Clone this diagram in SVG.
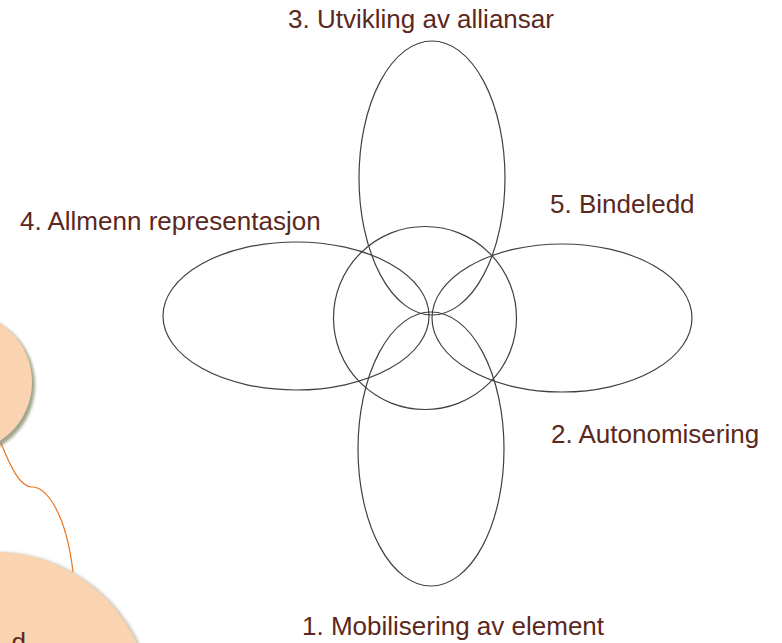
<svg xmlns="http://www.w3.org/2000/svg" width="782" height="643" viewBox="0 0 782 643">
<defs>
<style>
.lbl{font-family:"Liberation Sans",Arial,sans-serif;font-size:26px;fill:#5b2820}
.ring{fill:none;stroke:#404040;stroke-width:1.2}
.peach{fill:#fad3b1}
</style>
<filter id="blur" x="-20%" y="-20%" width="140%" height="140%"><feGaussianBlur stdDeviation="1.5"/></filter>
</defs>
<rect width="782" height="643" fill="#ffffff"/>
<g id="bubble-top">
<circle cx="-36" cy="385" r="71" fill="#9ea58a" filter="url(#blur)"/>
<circle cx="-38" cy="382" r="70" class="peach"/>
</g>
<g id="bubble-bottom">
<ellipse cx="-3" cy="713" rx="158" ry="161" fill="#c9c6c0" filter="url(#blur)"/>
<ellipse cx="-5" cy="712" rx="157" ry="160" class="peach"/>
<text x="26" y="651" class="lbl" font-size="25" text-anchor="end">d</text>
</g>
<g id="connectors">
<path d="M1 443 C10 466 20 487 32 487 C46 487 66 512 73 572" fill="none" stroke="#e8741c" stroke-width="1.2"/>
</g>
<g id="ellipse-3"><ellipse cx="432" cy="178" rx="73" ry="137" class="ring"/></g>
<g id="ellipse-4"><ellipse cx="296" cy="316" rx="133" ry="74" class="ring"/></g>
<g id="ellipse-2"><ellipse cx="562" cy="318" rx="130" ry="74" class="ring"/></g>
<g id="ellipse-1"><ellipse cx="431" cy="449" rx="73" ry="137" class="ring"/></g>
<g id="circle-5"><circle cx="425" cy="318" r="91.5" class="ring"/></g>
<g id="labels">
<text x="421" y="28" class="lbl" text-anchor="middle">3. Utvikling av alliansar</text>
<text x="20" y="230" class="lbl">4. Allmenn representasjon</text>
<text x="550" y="213" class="lbl">5. Bindeledd</text>
<text x="551" y="443" class="lbl">2. Autonomisering</text>
<text x="302" y="635" class="lbl">1. Mobilisering av element</text>
</g>
</svg>
